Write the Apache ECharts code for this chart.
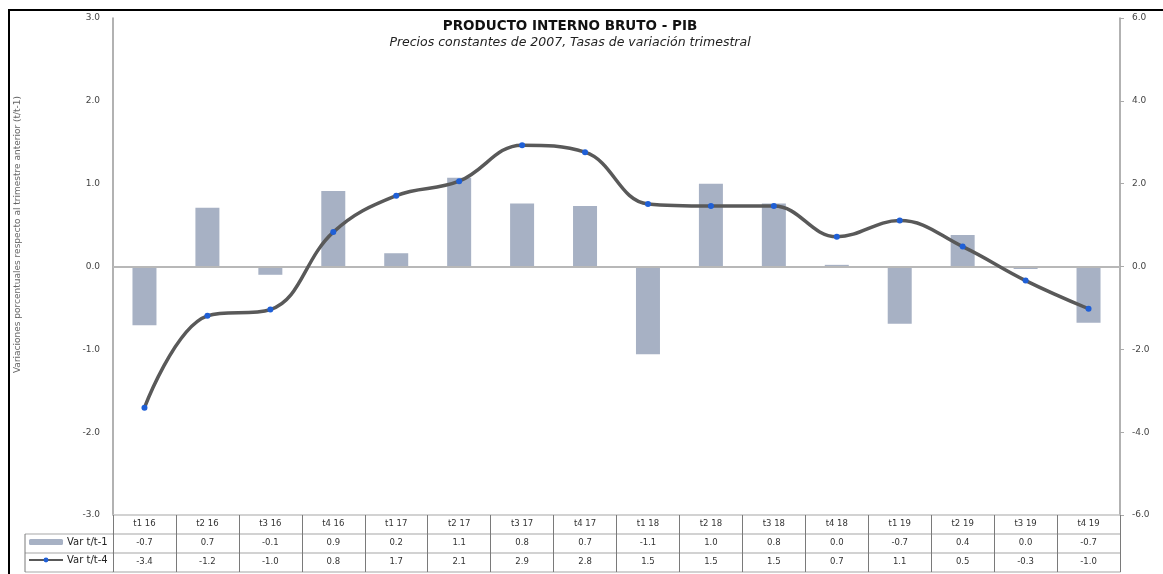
<!DOCTYPE html>
<html>
<head>
<meta charset="utf-8">
<script src="https://cdn.jsdelivr.net/npm/echarts@6/dist/echarts.min.js"></script>
<style>
  html, body { margin: 0; padding: 0; background: #fff; }
  #chart { width: 1163px; height: 574px; }
</style>
</head>
<body>
<div id="chart"></div>
<script>
// Quarters shown on the category axis and in the data table
const categories = ['t1 16', 't2 16', 't3 16', 't4 16', 't1 17', 't2 17', 't3 17', 't4 17',
                    't1 18', 't2 18', 't3 18', 't4 18', 't1 19', 't2 19', 't3 19', 't4 19'];
// Quarter-on-quarter change (%), bars on the left axis
const varQoQ = [-0.71, 0.71, -0.10, 0.91, 0.16, 1.07, 0.76, 0.73,
                -1.06, 1.00, 0.76, 0.02, -0.69, 0.38, -0.03, -0.68];
// Year-on-year change (%), line on the right axis
const varYoY = [-3.41, -1.19, -1.04, 0.83, 1.71, 2.06, 2.93, 2.76,
                1.51, 1.46, 1.46, 0.72, 1.11, 0.48, -0.34, -1.02];
const seriesNames = ['Var t/t-1', 'Var t/t-4'];

// One decimal, no "-0.0"
function fmt(v) {
  let r = Math.round(v * 10) / 10;
  if (r === 0) r = 0;
  return r.toFixed(1);
}

const chart = echarts.init(document.getElementById('chart'));
const FONT = 'DejaVu Sans, Verdana, sans-serif';
const rowLine = '#c4c4c4';
const colLine = '#7a7a7a';

const tableLabel = {
  show: true, interval: 0, margin: 4, fontSize: 8.5, color: '#333', fontFamily: FONT
};

chart.setOption({
  backgroundColor: '#fff',
  animation: false,
  textStyle: { fontFamily: FONT },
  title: {
    text: 'PRODUCTO INTERNO BRUTO - PIB',
    subtext: 'Precios constantes de 2007, Tasas de variación trimestral',
    left: 565, top: 14, textAlign: 'center', itemGap: 3,
    textStyle: { fontSize: 13.5, fontWeight: 'bold', color: '#111', fontFamily: FONT },
    subtextStyle: { fontSize: 12.5, fontStyle: 'italic', color: '#222', fontFamily: FONT }
  },
  legend: {
    data: seriesNames,
    orient: 'vertical',
    left: 28, top: 537, padding: 0,
    itemWidth: 34, itemHeight: 6, itemGap: 8,
    selectedMode: false,
    textStyle: { fontSize: 10, color: '#222', fontFamily: FONT, padding: [0, 0, 0, -1] }
  },
  grid: { left: 113, right: 43, top: 18, bottom: 59, containLabel: false },
  xAxis: [
    {
      type: 'category', data: categories, position: 'bottom',
      axisLine: { show: true, onZero: false, lineStyle: { color: rowLine, width: 1.5 } },
      axisTick: { show: true, inside: false, length: 57, lineStyle: { color: colLine, width: 1 } },
      axisLabel: tableLabel
    },
    {
      type: 'category', data: categories, position: 'bottom', offset: 19,
      axisLine: { show: true, onZero: false, lineStyle: { color: rowLine, width: 1.5 } },
      axisTick: { show: false },
      axisLabel: Object.assign({}, tableLabel, { formatter: (v, i) => fmt(varQoQ[i]) })
    },
    {
      type: 'category', data: categories, position: 'bottom', offset: 38,
      axisLine: { show: true, onZero: false, lineStyle: { color: rowLine, width: 1.5 } },
      axisTick: { show: false },
      axisLabel: Object.assign({}, tableLabel, { formatter: (v, i) => fmt(varYoY[i]) })
    },
    {
      type: 'category', data: categories, position: 'bottom', offset: 57,
      axisLine: { show: true, onZero: false, lineStyle: { color: rowLine, width: 1.5 } },
      axisTick: { show: false },
      axisLabel: { show: false }
    }
  ],
  yAxis: [
    {
      type: 'value', min: -3, max: 3, interval: 1, position: 'left',
      name: 'Variaciones porcentuales respecto al trimestre anterior (t/t-1)',
      nameLocation: 'middle', nameRotate: 90, nameGap: 91,
      nameTextStyle: { fontSize: 9, color: '#666', fontFamily: FONT, padding: [0, 0, 0, 64] },
      axisLine: { show: true, lineStyle: { color: '#999', width: 1.5 } },
      axisTick: { show: false },
      splitLine: { show: false },
      axisLabel: { margin: 13, fontSize: 9, color: '#444', formatter: v => v.toFixed(1) }
    },
    {
      type: 'value', min: -6, max: 6, interval: 2, position: 'right',
      axisLine: { show: true, lineStyle: { color: '#999', width: 1.5 } },
      axisTick: { show: true, inside: false, length: 4, lineStyle: { color: '#aaa' } },
      splitLine: { show: false },
      axisLabel: { margin: 12, fontSize: 9, color: '#444', formatter: v => v.toFixed(1) }
    }
  ],
  series: [
    {
      name: seriesNames[0], type: 'bar', xAxisIndex: 0, yAxisIndex: 0,
      data: varQoQ, barWidth: 24,
      itemStyle: { color: '#a7b1c4' },
      markLine: {
        silent: true, symbol: 'none', label: { show: false },
        lineStyle: { color: '#b8b8b8', width: 2, type: 'solid' },
        data: [{ yAxis: 0 }]
      }
    },
    {
      name: seriesNames[1], type: 'line', xAxisIndex: 0, yAxisIndex: 1,
      data: varYoY, smooth: 0.4,
      symbol: 'circle', symbolSize: 6,
      lineStyle: { color: '#595959', width: 3.5 },
      itemStyle: { color: '#1f5fd6' },
      z: 5
    }
  ],
  graphic: [
    // outer frame
    { type: 'rect', shape: { x: 9, y: 10, width: 1200, height: 620 },
      style: { fill: 'none', stroke: '#000', lineWidth: 2 }, silent: true },
    // legend column of the data table
    { type: 'line', shape: { x1: 25, y1: 534, x2: 113, y2: 534 }, style: { stroke: rowLine, lineWidth: 1.5 } },
    { type: 'line', shape: { x1: 25, y1: 553, x2: 113, y2: 553 }, style: { stroke: rowLine, lineWidth: 1.5 } },
    { type: 'line', shape: { x1: 25, y1: 572, x2: 113, y2: 572 }, style: { stroke: rowLine, lineWidth: 1.5 } },
    { type: 'line', shape: { x1: 25, y1: 534, x2: 25, y2: 572 }, style: { stroke: colLine, lineWidth: 1 } }
  ]
});
</script>
</body>
</html>
